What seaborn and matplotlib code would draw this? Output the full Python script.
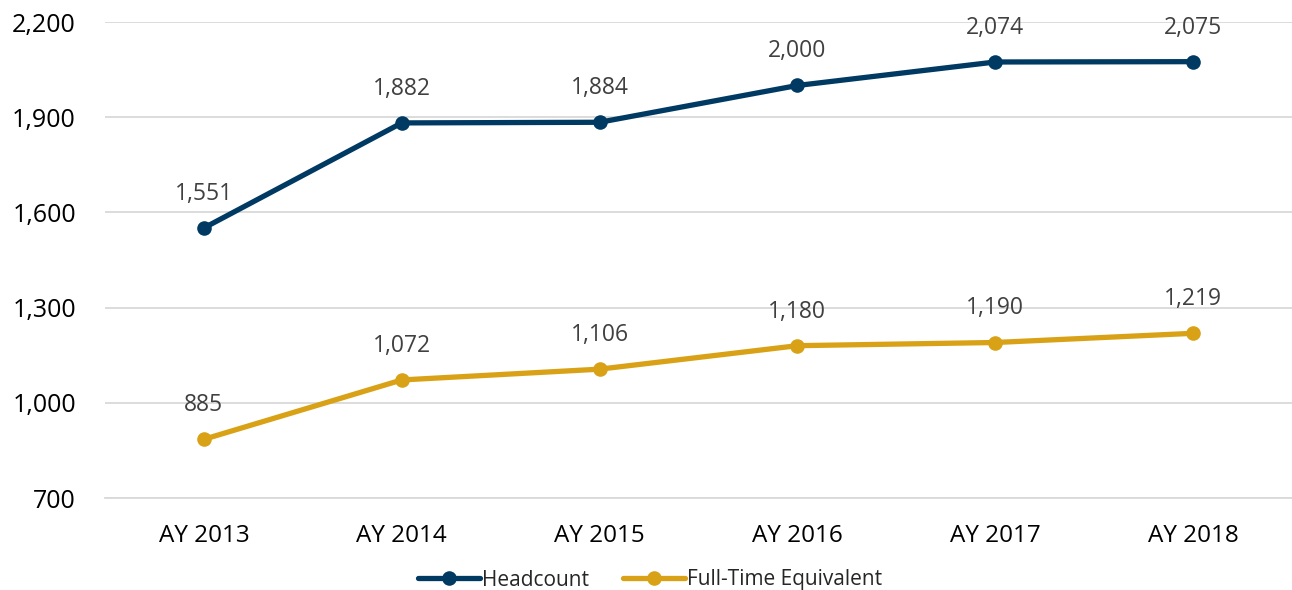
import matplotlib
matplotlib.use("Agg")
import matplotlib.pyplot as plt
import seaborn as sns
import pandas as pd
from matplotlib.ticker import FuncFormatter

years = ["AY 2013", "AY 2014", "AY 2015", "AY 2016", "AY 2017", "AY 2018"]
headcount = [1551, 1882, 1884, 2000, 2074, 2075]
fte = [885, 1072, 1106, 1180, 1190, 1219]
series_names = ["Headcount", "Full-Time Equivalent"]
colors = ["#003A63", "#D9A116"]

df = pd.DataFrame({
    "year": years * 2,
    "value": headcount + fte,
    "series": [series_names[0]] * len(years) + [series_names[1]] * len(years),
})
df["x"] = list(range(len(years))) * 2

sns.set_theme(style="white")
plt.rcParams["font.family"] = ["Open Sans", "DejaVu Sans"]

fig = plt.figure(figsize=(12.92, 5.90), dpi=100)
ax = fig.add_axes([105 / 1292, 1 - 498 / 590, 1 - 105 / 1292, (498 - 22) / 590])

sns.lineplot(data=df, x="x", y="value", hue="series", palette=colors,
             marker="o", markersize=10.5, linewidth=3.8, markeredgewidth=0,
             ax=ax, legend=True)

ax.set_xlim(-0.5, len(years) - 0.5)
ax.set_ylim(700, 2200)
ax.set_yticks([700, 1000, 1300, 1600, 1900, 2200])
ax.yaxis.set_major_formatter(FuncFormatter(lambda v, p: f"{int(v):,}"))
ax.set_xticks(range(len(years)))
ax.set_xticklabels(years)
ax.set_xlabel("")
ax.set_ylabel("")
ax.grid(axis="y", color="#D9D9D9", linewidth=1.3)
ax.set_axisbelow(True)
for s in ["top", "right", "left"]:
    ax.spines[s].set_visible(False)
ax.spines["bottom"].set_color("#D9D9D9")
ax.spines["bottom"].set_linewidth(1.3)
ax.tick_params(axis="y", length=0, labelsize=18, colors="#000000", pad=21)
ax.tick_params(axis="x", length=0, labelsize=17.5, colors="#000000", pad=19)

for vals in (headcount, fte):
    for i, v in enumerate(vals):
        ax.annotate(f"{v:,}", (i, v), xytext=(0, 24.5), textcoords="offset points",
                    ha="center", va="center", fontsize=16.5, color="#404040")

handles, labels = ax.get_legend_handles_labels()
ax.legend(handles, labels, loc="center", bbox_to_anchor=(0.5 - 48.5 / 1187, -82 / 476),
          ncol=2, frameon=False, fontsize=15, handlelength=3.0, columnspacing=1.6,
          handletextpad=0.1, borderaxespad=0)

fig.savefig("out.png", dpi=100)
